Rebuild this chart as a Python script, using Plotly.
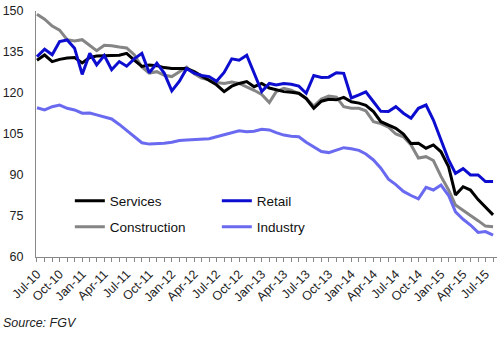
import pandas as pd
import plotly.graph_objects as go

months = pd.date_range("2010-07-01", periods=62, freq="MS")

services = [132, 133.9, 131.5, 132.3, 132.8, 133, 131, 133, 133.5, 133.5, 133.7, 133.8,
            134.5, 132, 129.7, 130.2, 130, 129.3, 129, 129, 129, 127.8, 126.2, 124.8,
            123, 120.5, 122.5, 123.5, 124.2, 122.3, 123.5, 121.8, 121.2, 120.5, 120.3, 119.9,
            118, 114.4, 117, 117.7, 117.5, 118.4, 116.8, 116.3, 115.5, 113.2, 109.5, 108.3,
            107.1, 105, 101.5, 101.6, 99.8, 101, 98.5, 93, 82.7, 85.7, 84.5, 81, 78.4, 75.4]

retail = [133.3, 136, 134, 138.8, 139.4, 136.4, 126.8, 134.5, 130.3, 133.7, 128.5, 131.5,
          129.8, 132.5, 134.5, 127.4, 130.9, 127.3, 120.8, 124.3, 128.9, 127.3, 126.4, 126,
          124.3, 127.5, 132.5, 132, 133.8, 127, 120.5, 123.5, 122.9, 123.5, 123.2, 122.5,
          119.9, 126.4, 125.7, 125.8, 127.4, 127.2, 118.2, 119.3, 120.4, 116.8, 113.3, 113.2,
          115, 112.6, 110.8, 114.4, 115.6, 110.1, 103, 95.5, 90.6, 92.3, 90, 90, 87.6, 87.6]

construction = [148.8, 147, 144.5, 143, 139.5, 139, 139.5, 137.5, 135.5, 137.5, 137.3, 136.8,
                136.5, 134, 129.5, 127.3, 127.8, 126.5, 126, 127.8, 129.5, 127, 125.5, 124.8,
                123.8, 123.5, 124, 123.5, 122.3, 121, 119.5, 116.5, 120.5, 121.7, 121, 119.8,
                118, 115.2, 117.8, 118.9, 118.5, 115, 114.4, 114.4, 113.5, 109.5, 108.8, 107.5,
                105, 104, 101, 96.2, 96.7, 95.3, 89.5, 84.5, 79, 77.2, 75.2, 73.3, 71.3, 71.1]

industry = [114.6, 113.8, 115, 115.6, 114.4, 113.8, 112.6, 112.7, 112, 111.3, 110.5, 108.5,
            106.2, 104, 101.8, 101.3, 101.4, 101.6, 102, 102.6, 102.8, 103, 103, 103.3,
            104, 104.8, 105.5, 106.2, 105.8, 106, 106.7, 106.5, 105.5, 104.6, 104.2, 104,
            102, 100.3, 98.6, 98.2, 99.2, 100, 99.6, 99, 97.7, 95.5, 92.5, 88.5,
            86.5, 84, 82.5, 81.3, 85.5, 84.5, 86.3, 82.5, 76.5, 73.8, 71.7, 69, 69.3, 68]

y_ticks = [60, 75, 90, 105, 120, 135, 150]

FONT = "Liberation Sans, Arial, sans-serif"

fig = go.Figure()
series = [
    ("Construction", construction, "#858585", "legend2"),
    ("Industry", industry, "#6a6af0", "legend2"),
    ("Services", services, "#000000", "legend"),
    ("Retail", retail, "#0d0dd0", "legend"),
]
for name, vals, color, lg in series:
    fig.add_trace(go.Scatter(x=months, y=vals, name=name, mode="lines",
                             line=dict(color=color, width=3), legend=lg))

leg_common = dict(orientation="h", xanchor="left", yanchor="middle",
                  font=dict(family=FONT, size=13.5, color="#111"),
                  bgcolor="rgba(0,0,0,0)", entrywidth=102, entrywidthmode="pixels",
                  itemwidth=30, traceorder="normal")

fig.update_layout(
    width=500, height=339,
    margin=dict(l=32, r=3, t=11, b=82),
    paper_bgcolor="white", plot_bgcolor="white",
    showlegend=True,
    legend=dict(x=0.0734, y=0.228, **leg_common),
    legend2=dict(x=0.0734, y=0.122, **leg_common),
    font=dict(family=FONT, color="#222"),
    xaxis=dict(
        range=["2010-06-27", "2015-08-17"],
        tickmode="linear", tick0="2010-07-01", dtick="M3", tickformat="%b-%y",
        tickangle=-45, tickfont=dict(family=FONT, size=12.5, color="#222"),
        ticks="outside", ticklen=4, tickcolor="#888", tickwidth=1,
        minor=dict(dtick="M1", tick0="2010-07-01", ticks="outside", ticklen=4,
                   tickcolor="#888", tickwidth=1),
        showline=True, linecolor="#888", linewidth=1,
        showgrid=False, zeroline=False,
    ),
    yaxis=dict(
        range=[60, 150], tickvals=y_ticks,
        tickfont=dict(family=FONT, size=12.5, color="#222"),
        ticks="", ticklabelstandoff=9,
        showline=True, linecolor="#888", linewidth=1,
        showgrid=False, zeroline=False,
    ),
    annotations=[dict(text="<i>Source: FGV</i>", xref="paper", yref="paper",
                      x=-0.077, y=-0.268, xanchor="left", yanchor="middle",
                      showarrow=False, font=dict(family=FONT, size=12.5, color="#222"))],
)

fig.write_html("out.html")
